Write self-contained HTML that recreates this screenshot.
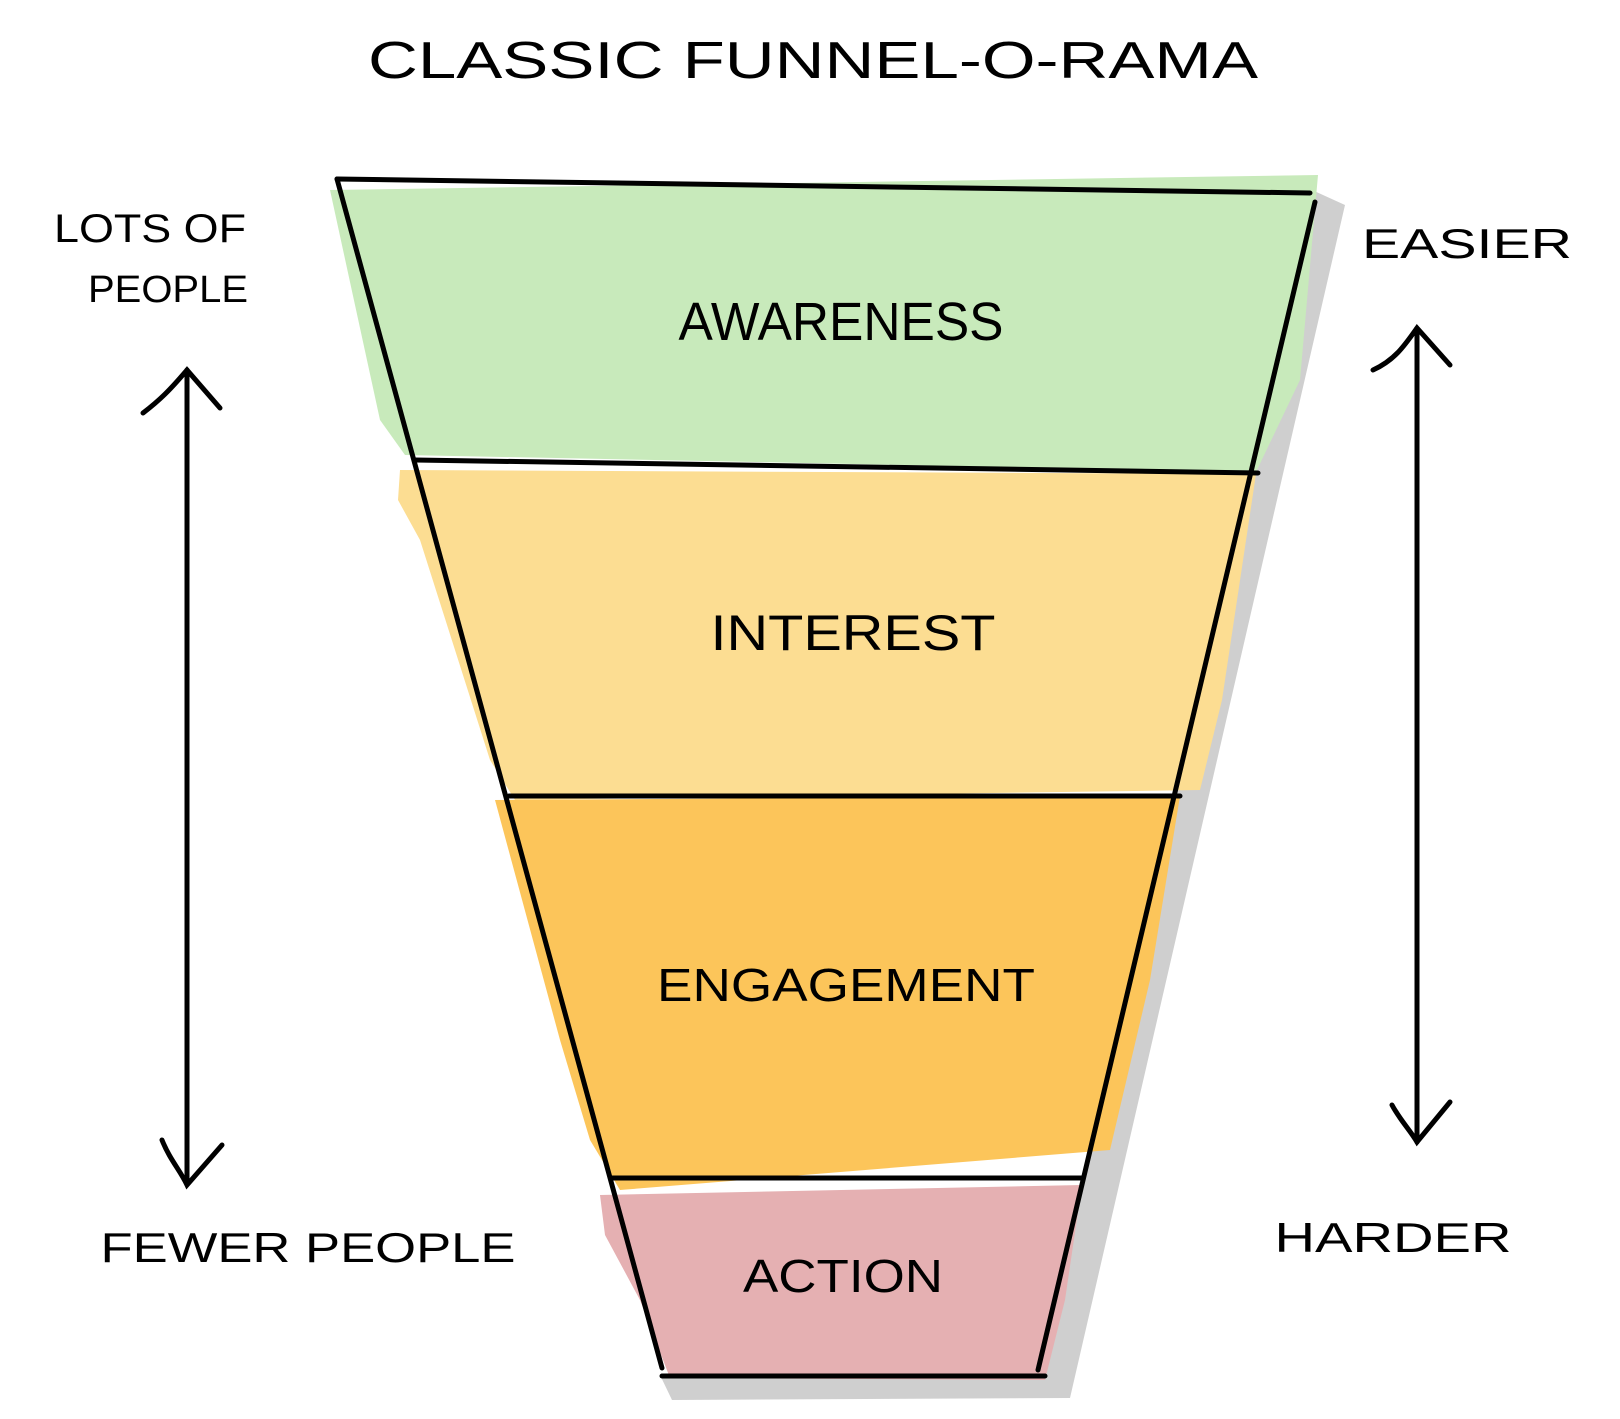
<!DOCTYPE html>
<html><head><style>html,body{margin:0;padding:0;background:#fff;}svg{display:block;}</style></head>
<body>
<svg width="1620" height="1419" viewBox="0 0 1620 1419" xmlns="http://www.w3.org/2000/svg">
<g stroke-linejoin="round">
<!-- shadow -->
<polygon points="1312,190 1345,205 1070,1398 672,1400 660,1375 1040,1372" fill="#cfcfcf"/>
<!-- fills -->
<polygon points="330,190 1318,175 1300,380 1256,472 405,455 380,420" fill="#c8eabb"/>
<polygon points="400,470 1256,474 1222,700 1200,790 515,800 490,760 420,540 398,500" fill="#fcdd92"/>
<polygon points="495,800 1180,796 1150,980 1110,1150 620,1190 590,1140 560,1040" fill="#fcc55a"/>
<polygon points="600,1195 1082,1185 1065,1300 1045,1380 670,1378 640,1300 605,1235" fill="#e5b0b2"/>
</g>
<g stroke="#000" stroke-width="5" stroke-linecap="round" fill="none">
<line x1="337" y1="179" x2="1310" y2="193"/>
<line x1="337" y1="179" x2="662" y2="1368"/>
<line x1="1315" y1="202" x2="1038" y2="1370"/>
<line x1="415" y1="460" x2="1258" y2="473"/>
<line x1="509" y1="796" x2="1180" y2="796"/>
<line x1="612" y1="1178" x2="1082" y2="1178"/>
<line x1="662" y1="1376" x2="1045" y2="1376"/>
<!-- left arrow -->
<line x1="187" y1="370" x2="187" y2="1183"/>
<path d="M143,413 C160,400 170,390 187,370 L220,408"/>
<path d="M162,1140 C170,1160 180,1170 187,1185 L222,1145"/>
<!-- right arrow -->
<line x1="1417" y1="330" x2="1417" y2="1142"/>
<path d="M1373,370 C1395,360 1405,345 1417,328 L1450,365"/>
<path d="M1392,1105 C1400,1120 1410,1130 1417,1142 L1450,1102"/>
</g>
<g font-family="Liberation Sans, sans-serif" fill="#000" text-anchor="middle">
<text x="813" y="78" font-size="52" textLength="890" lengthAdjust="spacingAndGlyphs">CLASSIC  FUNNEL-O-RAMA</text>
<text x="841" y="340" font-size="54" textLength="325" lengthAdjust="spacingAndGlyphs">AWARENESS</text>
<text x="853" y="650" font-size="50" textLength="285" lengthAdjust="spacingAndGlyphs">INTEREST</text>
<text x="846" y="1001" font-size="46" textLength="378" lengthAdjust="spacingAndGlyphs">ENGAGEMENT</text>
<text x="843" y="1292" font-size="46" textLength="200" lengthAdjust="spacingAndGlyphs">ACTION</text>
<text x="150" y="242" font-size="40" textLength="192" lengthAdjust="spacingAndGlyphs">LOTS OF</text>
<text x="168" y="302" font-size="38" textLength="160" lengthAdjust="spacingAndGlyphs">PEOPLE</text>
<text x="308" y="1262" font-size="42" textLength="415" lengthAdjust="spacingAndGlyphs">FEWER  PEOPLE</text>
<text x="1467" y="258" font-size="42" textLength="210" lengthAdjust="spacingAndGlyphs">EASIER</text>
<text x="1393" y="1252" font-size="42" textLength="237" lengthAdjust="spacingAndGlyphs">HARDER</text>
</g>
</svg>
</body></html>
